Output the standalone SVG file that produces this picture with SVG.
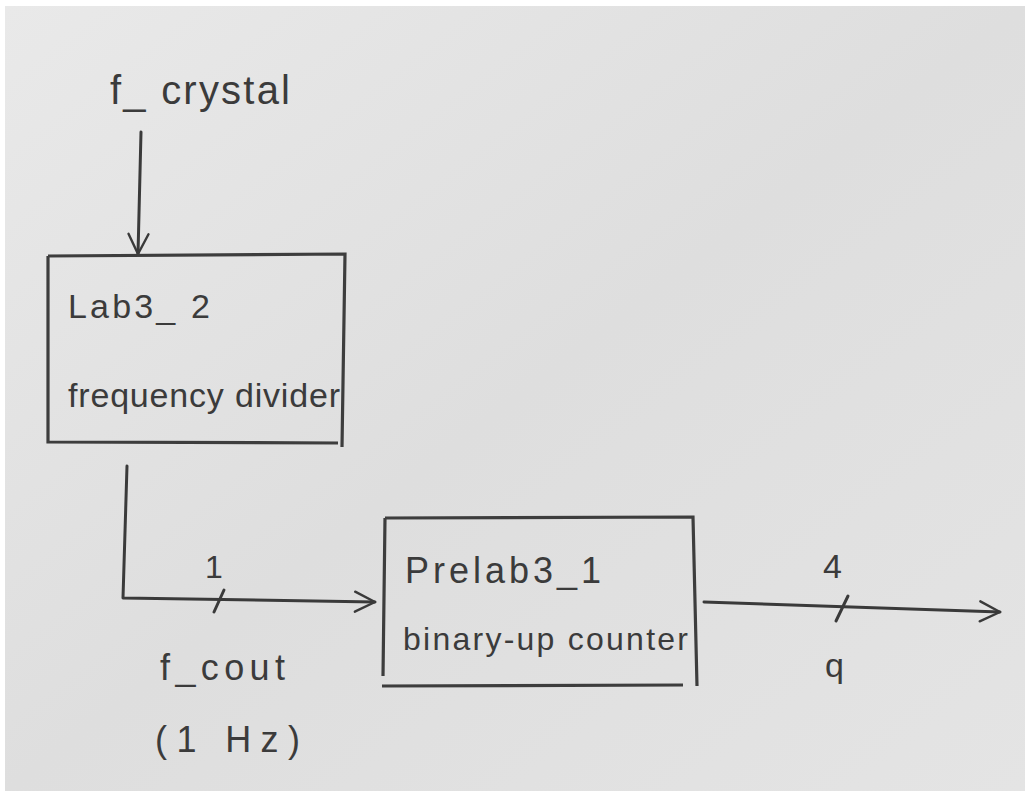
<svg xmlns="http://www.w3.org/2000/svg" width="1025" height="791" viewBox="0 0 1025 791">
<defs>
<linearGradient id="paper" x1="0" y1="0" x2="1" y2="1">
<stop offset="0" stop-color="#e9e9e9"/>
<stop offset="0.5" stop-color="#dedede"/>
<stop offset="1" stop-color="#e4e4e4"/>
</linearGradient>
<marker id="arr" viewBox="0 0 24 24" refX="22" refY="12" markerWidth="24" markerHeight="24" markerUnits="userSpaceOnUse" orient="auto">
<path d="M2 2 L22 12 L2 22" fill="none" stroke="#3a3a3a" stroke-width="2.4" stroke-linecap="round" stroke-linejoin="round"/>
</marker>
<style>
.ln{fill:none;stroke:#3a3a3a;stroke-width:3;stroke-linecap:round;stroke-linejoin:round}
.box{fill:none;stroke:#3d3d3d;stroke-width:3.2}
.t{font-family:"Liberation Sans","DejaVu Sans",sans-serif;fill:#3b3b3b}
</style>
</defs>
<rect width="1025" height="791" fill="#ffffff"/>
<rect x="5" y="6" width="1020" height="785" fill="url(#paper)"/>

<g id="connectors">
<path class="ln" d="M141 132 L138 254" marker-end="url(#arr)"/>
<path class="ln" d="M127 466 L123 598 L375 602" marker-end="url(#arr)"/>
<path class="ln" d="M224 590 L214 612"/>
<path class="ln" d="M704 602 L1000 612" marker-end="url(#arr)"/>
<path class="ln" d="M848 596 L836 621"/>
</g>

<g id="input-label">
<text class="t" x="110" y="104" font-size="40" textLength="180" lengthAdjust="spacing">f_ crystal</text>
</g>

<g id="node-lab3-2">
<path class="box" d="M48 256 L345 254 L342 447 M48 256 L48 442 L338 443"/>
<text class="t" x="68" y="318" font-size="34" textLength="142" lengthAdjust="spacing">Lab3_ 2</text>
<text class="t" x="68" y="407" font-size="34" textLength="272" lengthAdjust="spacing">frequency divider</text>
</g>

<g id="node-prelab3-1">
<path class="box" d="M385 518 L693 517 L697 686 M385 518 L383 676 M382 686 L683 685"/>
<text class="t" x="405" y="583" font-size="36" textLength="196" lengthAdjust="spacing">Prelab3_1</text>
<text class="t" x="403" y="650" font-size="32" textLength="285" lengthAdjust="spacing">binary-up counter</text>
</g>

<g id="edge-labels">
<text class="t" x="205" y="578" font-size="32">1</text>
<text class="t" x="160" y="680" font-size="36" textLength="125" lengthAdjust="spacing">f_cout</text>
<text class="t" x="155" y="752" font-size="36" textLength="145" lengthAdjust="spacing">(1 Hz)</text>
<text class="t" x="823" y="578" font-size="34">4</text>
<text class="t" x="825" y="677" font-size="34">q</text>
</g>
</svg>
